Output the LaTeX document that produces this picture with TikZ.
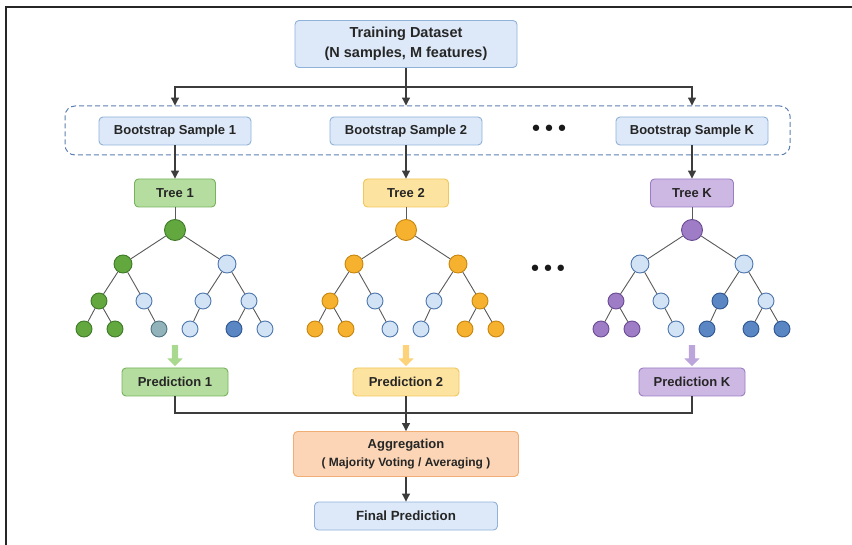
\documentclass[tikz,border=0pt]{standalone}
\usepackage{fontspec}
\setmainfont{Liberation Sans}
\newfontfamily\dotfont{DejaVu Sans}
\usetikzlibrary{arrows.meta,shapes.arrows}

% box colours
\definecolor{bFill}{HTML}{DDE9F8}
\definecolor{bLine}{HTML}{8FB1DA}
\definecolor{grFill}{HTML}{B5DDA0}
\definecolor{grLine}{HTML}{76B35A}
\definecolor{yeFill}{HTML}{FDE3A0}
\definecolor{yeLine}{HTML}{F2C65A}
\definecolor{puFill}{HTML}{CDB8E3}
\definecolor{puLine}{HTML}{9A7CC4}
\definecolor{orFill}{HTML}{FBD5B5}
\definecolor{orLine}{HTML}{F0AE74}
\definecolor{dashC}{HTML}{5D80B0}
\definecolor{lineC}{HTML}{3C3C3C}

% tree node colours (g green, o orange, p purple, b light blue, d dark blue, s slate)
\definecolor{gFill}{HTML}{62A83E}  \definecolor{gLine}{HTML}{3F7A28}
\definecolor{oFill}{HTML}{F6B22E}  \definecolor{oLine}{HTML}{C7860F}
\definecolor{pFill}{HTML}{9E7CC6}  \definecolor{pLine}{HTML}{6A4B93}
\definecolor{bNodeFill}{HTML}{D2E3F6}
\definecolor{bNodeLine}{HTML}{4E77AE}
\definecolor{dFill}{HTML}{5A86C4}  \definecolor{dLine}{HTML}{2E5691}
\definecolor{sFill}{HTML}{93B3BA}  \definecolor{sLine}{HTML}{4E7482}

% small down arrows under the trees
\definecolor{grArrow}{HTML}{A9D98E}
\definecolor{yeArrow}{HTML}{FCD27A}
\definecolor{puArrow}{HTML}{BBA5DA}

\begin{document}
\begin{tikzpicture}[x=1pt, y=-1pt,
    box/.style={draw, rounded corners=4pt, line width=0.9pt, minimum height=28pt,
        inner sep=2pt, text=black!85, font=\bfseries\fontsize{13}{15}\selectfont},
    bluebox/.style={box, fill=bFill, draw=bLine},
    greenbox/.style={box, fill=grFill, draw=grLine},
    yellowbox/.style={box, fill=yeFill, draw=yeLine},
    purplebox/.style={box, fill=puFill, draw=puLine},
    link/.style={line width=1.1pt, draw=lineC},
    arr/.style={link, -{Triangle[length=8pt, width=8pt]}},
    twig/.style={line width=0.9pt, draw=lineC!85},
    tnode/.style={circle, inner sep=0pt, line width=0.9pt},
    fatarrow/.style={single arrow, shape border rotate=270, draw=none, inner sep=3pt,
        minimum height=21pt, single arrow head extend=4.5pt}
]

\useasboundingbox (0,0) rectangle (852,545);

% Define column positions
\def\colA{175}
\def\colB{406}
\def\colC{692}

% --- Outer frame (only left and top edges are visible) ---
\draw[line width=1.8pt, black!85] (6,545) -- (6,7) -- (852,7);

% --- Dataset and bootstrap samples ---
\node[bluebox, minimum width=222pt, minimum height=47pt, align=center,
      font=\bfseries\fontsize{14.5}{20}\selectfont] (data) at (\colB,44)
      {Training Dataset\\(N samples, M features)};

\node[draw=dashC, dashed, dash pattern=on 5pt off 3pt, line width=1pt, rounded corners=10pt,
      minimum width=725pt, minimum height=49pt] (bag) at (427.5,130.5) {};

\node[bluebox, minimum width=152pt] (bs1) at (\colA,131) {Bootstrap Sample 1};
\node[bluebox, minimum width=152pt] (bs2) at (\colB,131) {Bootstrap Sample 2};
\node[bluebox, minimum width=152pt] (bsK) at (\colC,131) {Bootstrap Sample K};
\node[font=\dotfont\fontsize{22}{22}\selectfont, text=black!90] (gapA) at (549,131) {•••};

\coordinate (split) at (\colB,87);
\draw[link] (data) -- (split);
\draw[arr, shorten >=11pt] (split) -| (bs1);
\draw[arr, shorten >=11pt] (split) -- (bs2);
\draw[arr, shorten >=11pt] (split) -| (bsK);

% --- Tree labels ---
\node[greenbox, minimum width=81pt] (tree1) at (\colA,193) {Tree 1};
\node[yellowbox, minimum width=85pt] (tree2) at (\colB,193) {Tree 2};
\node[purplebox, minimum width=83pt] (treeK) at (\colC,193) {Tree K};

\draw[arr] (bs1) -- (tree1);
\draw[arr] (bs2) -- (tree2);
\draw[arr] (bsK) -- (treeK);

% --- The decision trees ---
% node order: 1 root, 2-3 second level, 4-7 third level, 8-13 leaves
\def\dxs{{0,-52,52,-76,-31,28,74,-91,-60,-16,15,59,90}}
\def\ys{{230,264,264,301,301,301,301,329,329,329,329,329,329}}
\def\ds{{21,18,18,16,16,16,16,16,16,16,16,16,16}}

\foreach \tr/\cx/\cols in {1/\colA/{g,g,bNode,g,bNode,bNode,bNode,g,g,s,bNode,d,bNode},
                          2/\colB/{o,o,o,o,bNode,bNode,o,o,o,bNode,bNode,o,o},
                          K/\colC/{p,bNode,bNode,p,bNode,d,bNode,p,p,bNode,d,d,d}} {
  \foreach \c [count=\idx] in \cols {
    \pgfmathsetmacro\xx{\cx+\dxs[\idx-1]}
    \pgfmathsetmacro\yy{\ys[\idx-1]}
    \pgfmathsetmacro\dd{\ds[\idx-1]}
    \node[tnode, minimum size=\dd pt, fill=\c Fill, draw=\c Line] (t\tr-\idx) at (\xx,\yy) {};
  }
}

\foreach \tr in {1,2,K} {
  \foreach \a/\b in {1/2,1/3,2/4,2/5,3/6,3/7,4/8,4/9,5/10,6/11,7/12,7/13}
    \draw[twig] (t\tr-\a) -- (t\tr-\b);
}

\draw[twig] (tree1) -- (t1-1);
\draw[twig] (tree2) -- (t2-1);
\draw[twig] (treeK) -- (tK-1);

\node[font=\dotfont\fontsize{22}{22}\selectfont, text=black!90] (gapB) at (548,271) {•••};

% --- Predictions ---
\node[fatarrow, fill=grArrow] (down1) at (\colA,354) {};
\node[fatarrow, fill=yeArrow] (down2) at (\colB,354) {};
\node[fatarrow, fill=puArrow] (downK) at (\colC,354) {};

\node[greenbox, minimum width=106pt] (pred1) at (\colA,382) {Prediction 1};
\node[yellowbox, minimum width=106pt] (pred2) at (\colB,382) {Prediction 2};
\node[purplebox, minimum width=106pt] (predK) at (\colC,382) {Prediction K};

% --- Aggregation ---
\node[box, fill=orFill, draw=orLine, minimum width=225pt, minimum height=45pt, align=center,
      font=\bfseries\fontsize{13}{18}\selectfont] (agg) at (\colB,454)
      {Aggregation\\{\fontsize{12}{14}\selectfont( Majority Voting / Averaging )}};
\node[bluebox, minimum width=183pt, font=\bfseries\fontsize{13.3}{15}\selectfont] (final) at (\colB,516)
      {Final Prediction};

\coordinate (join) at (\colB,413);
\draw[link] (pred1) |- (join) -| (predK);
\draw[arr] (pred2) -- (agg);
\draw[arr] (agg) -- (final);

\end{tikzpicture}
\end{document}
